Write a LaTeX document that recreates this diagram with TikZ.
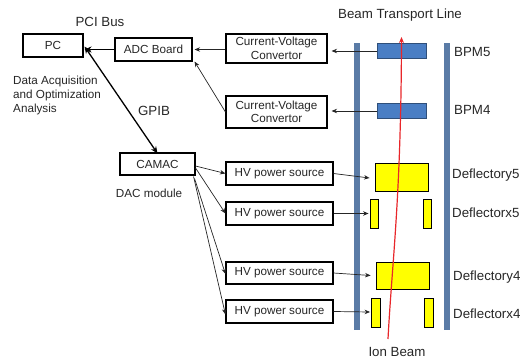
\documentclass[tikz,border=0pt]{standalone}
\usepackage{fontspec}
\setmainfont{Liberation Sans}
\usetikzlibrary{arrows.meta}
\definecolor{txt}{HTML}{262626}
\definecolor{wall}{HTML}{5A7BA6}
\definecolor{bpm}{HTML}{4A7EC4}
\definecolor{bpmline}{HTML}{2F4F7A}
\definecolor{beam}{HTML}{E8262A}
\definecolor{defl}{HTML}{FFFF00}
\tikzset{
  box/.style={draw=black, line width=1.1pt, rectangle, inner sep=0pt, text=txt, font=\fontsize{11.7}{13.5}\selectfont, align=center},
  lbl/.style={text=txt, font=\fontsize{13.3}{15}\selectfont, inner sep=0pt},
  note/.style={text=txt, font=\fontsize{11.7}{14}\selectfont, inner sep=0pt, align=left},
  conn/.style={line width=0.7pt, -{Stealth[length=5.5pt,width=4.5pt]}, black!85},
  thick conn/.style={line width=1.3pt, black},
  bar/.style={fill=wall, draw=none},
  bpmbox/.style={fill=bpm, draw=bpmline, line width=0.6pt},
  deflbox/.style={fill=defl, draw=black, line width=0.9pt},
}
\begin{document}
\begin{tikzpicture}[x=1pt,y=-1pt]
\useasboundingbox (0,0) rectangle (524,361);
% boxes
\node[box, minimum width=60pt, minimum height=23pt] (pc) at (53,45.5) {PC};
\node[box, minimum width=77pt, minimum height=23pt] (adc) at (153.5,49.5) {ADC Board};
\node[box, minimum width=75pt, minimum height=22pt] (camac) at (157.5,164) {CAMAC};
\node[box, minimum width=101pt, minimum height=29pt] (cv1) at (276.5,48.5) {Current-Voltage\\Convertor};
\node[box, minimum width=101pt, minimum height=32pt] (cv2) at (276.5,112) {Current-Voltage\\Convertor};
\node[box, minimum width=107pt, minimum height=23pt] (hv1) at (279.5,173.5) {HV power source};
\node[box, minimum width=107pt, minimum height=23pt] (hv2) at (279.5,213.5) {HV power source};
\node[box, minimum width=107pt, minimum height=22pt] (hv3) at (279.5,273) {HV power source};
\node[box, minimum width=107pt, minimum height=23pt] (hv4) at (279.5,311.5) {HV power source};
% labels
\node[lbl] (pci) at (100,22) {PCI Bus};
\node[note, anchor=north west] (daq) at (13,76) {Data Acquisition\\and Optimization\\Analysis};
\node[lbl] (gpib) at (154,111) {GPIB};
\node[note] (dac) at (149,193) {DAC module};
\node[lbl] (btl) at (400,15) {Beam Transport Line};
% beam line walls
\fill[bar] (354,43) rectangle (360,330);
\fill[bar] (444,43) rectangle (450,330);
% BPMs
\draw[bpmbox] (377,43) rectangle (426,58);
\coordinate (bpm5w) at (377,51);
\draw[bpmbox] (377,103) rectangle (426,118);
\coordinate (bpm4w) at (377,111);
\node[lbl, anchor=west] (bpm5l) at (454,52) {BPM5};
\node[lbl, anchor=west] (bpm4l) at (454,110) {BPM4};
% deflectors
\node[deflbox, minimum width=53pt, minimum height=28pt, inner sep=0pt] (dy5) at (401.5,177) {};
\node[deflbox, minimum width=8pt, minimum height=29pt, inner sep=0pt] (dx5l) at (374,213.5) {};
\node[deflbox, minimum width=8pt, minimum height=29pt, inner sep=0pt] (dx5r) at (427.5,213.5) {};
\node[deflbox, minimum width=53pt, minimum height=27pt, inner sep=0pt] (dy4) at (402.5,275.5) {};
\node[deflbox, minimum width=9pt, minimum height=29pt, inner sep=0pt] (dx4l) at (376,313) {};
\node[deflbox, minimum width=9pt, minimum height=29pt, inner sep=0pt] (dx4r) at (429,313) {};
\node[lbl, anchor=west] (dy5l) at (452,175) {Deflectory5};
\node[lbl, anchor=west] (dx5lbl) at (452,213) {Deflectorx5};
\node[lbl, anchor=west] (dy4l) at (453,277) {Deflectory4};
\node[lbl, anchor=west] (dx4lbl) at (453,314) {Deflectorx4};
\node[lbl] (ion) at (397,352) {Ion Beam};
% ion beam
\coordinate (beamS) at (388,339);
\coordinate (beamE) at (401.5,37);
\draw[beam, line width=1.2pt, -{Stealth[length=6pt,width=5pt]}] (beamS) .. controls (392,262) and (401,200) .. (beamE);
% connectors
\draw[conn] (bpm5w) -- ([xshift=4pt]cv1.east |- bpm5w);
\draw[conn] (bpm4w) -- ([xshift=4pt]cv2.east |- bpm4w);
\draw[conn] (cv1.west |- adc.east) -- ([xshift=2pt]adc.east);
\draw[conn] (cv2.west) -- ([xshift=2pt]adc.south east);
\draw[thick conn, -{Stealth[length=7pt,width=6pt]}] (adc.west) -- ([xshift=1pt]pc.east |- adc.west);
\draw[thick conn, {Stealth[length=7pt,width=6pt]}-{Stealth[length=7pt,width=6pt]}] ([xshift=1pt,yshift=-1pt]pc.east) -- ([yshift=-1pt]camac.north);
\draw[conn] ([yshift=-2pt]camac.east) -- (hv1.west);
\draw[conn] ([yshift=-1pt]camac.east) ++(0,3) -- (hv2.west);
\draw[conn] ([xshift=-1pt,yshift=-3pt]camac.south east) -- ([yshift=-1pt]hv3.west);
\draw[conn] ([xshift=-2pt,yshift=-1pt]camac.south east) -- ([yshift=-3pt]hv4.west);
\draw[conn] (hv1.east) -- ([xshift=-5pt,yshift=-1pt]dy5.west);
\draw[conn] (hv2.east) -- ([xshift=-1pt]dx5l.west);
\draw[conn] (hv3.east) -- ([xshift=-5pt]dy4.west);
\draw[conn] (hv4.east) -- ([xshift=-1pt,yshift=1pt]dx4l.west);
\end{tikzpicture}
\end{document}
